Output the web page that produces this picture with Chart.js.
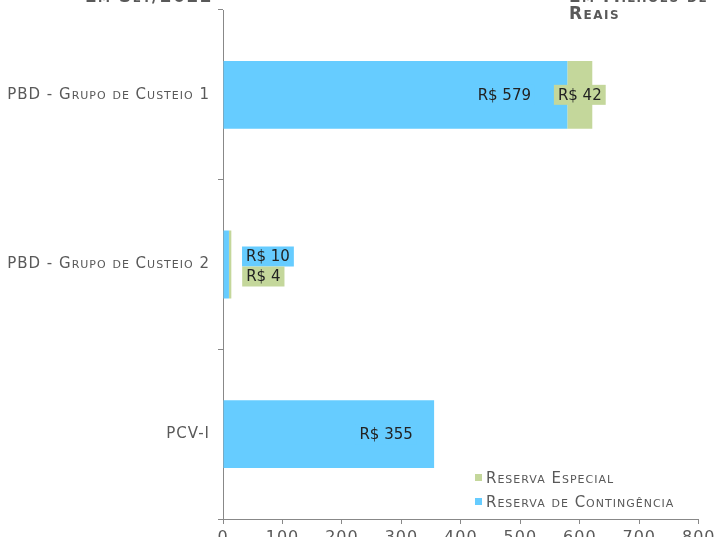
<!DOCTYPE html>
<html>
<head>
<meta charset="utf-8">
<script src="https://cdn.jsdelivr.net/npm/chart.js@4"></script>
<style>
  html, body { margin: 0; padding: 0; overflow: hidden; background: #fff; }
  #wrap { position: absolute; left: 0; top: -20px; width: 718px; height: 580px; }
</style>
</head>
<body>
<div id="wrap"><canvas id="chart"></canvas></div>
<script>
const categories = ['PBD - Grupo de Custeio 1', 'PBD - Grupo de Custeio 2', 'PCV-I']
const contingencia = [579, 10, 355]
const especial = [42, 4, 0]
const xTicks = [0, 100, 200, 300, 400, 500, 600, 700, 800]

const BLUE = '#66CCFF'
const GREEN = '#C4D79B'
const GRAY = '#595959'
const FAMILY = '"DejaVu Sans", sans-serif'

// label nudges (px) relative to the end of each segment
const shifts = [
  [[-63, 0], [39, -8], [-48, 0]],
  [['mid', 0], [32, 12], null],
]

const labelsPlugin = {
  id: 'barLabels',
  beforeDraw(chart) {
    // the source font is wide, so open the letters up a little
    chart.ctx.letterSpacing = '1px'
  },
  afterDatasetsDraw(chart) {
    const ctx = chart.ctx
    ctx.save()
    ctx.letterSpacing = '0px'
    ctx.font = '15px ' + FAMILY
    ctx.textAlign = 'center'
    ctx.textBaseline = 'middle'
    chart.data.datasets.forEach((ds, i) => {
      chart.getDatasetMeta(i).data.forEach((bar, j) => {
        const v = ds.data[j]
        const s = shifts[i][j]
        if (!v || !s) return
        const cx = s[0] === 'mid' ? (bar.x + bar.base) / 2 : bar.x + s[0]
        const cy = bar.y + s[1]
        const txt = 'R$ ' + v
        const w = ctx.measureText(txt).width + 8
        ctx.fillStyle = ds.backgroundColor
        ctx.fillRect(cx - w / 2, cy - 10, w, 20)
        ctx.fillStyle = '#222'
        ctx.fillText(txt, cx, cy + 1)
      })
    })
    ctx.restore()
  },
  afterDraw(chart) {
    const ctx = chart.ctx
    ctx.save()
    // titles (cut by the page top)
    ctx.fillStyle = GRAY
    ctx.letterSpacing = '1.5px'
    ctx.font = 'small-caps bold 17px ' + FAMILY
    ctx.textBaseline = 'alphabetic'
    ctx.textAlign = 'left'
    ctx.fillText('Em Set/2022', 85, 22)
    ctx.fillText('Em Milhões de', 569, 22)
    ctx.fillText('Reais', 569, 39)
    // legend inside plot
    const items = [[GREEN, 'Reserva Especial', 498], [BLUE, 'Reserva de Contingência', 522]]
    ctx.letterSpacing = '1px'
    ctx.font = 'small-caps 15px ' + FAMILY
    ctx.textBaseline = 'middle'
    items.forEach(([c, t, y]) => {
      ctx.fillStyle = c
      ctx.fillRect(475, y - 4, 7, 7)
      ctx.fillStyle = GRAY
      ctx.fillText(t, 486, y + 1)
    })
    ctx.restore()
  }
}

new Chart(document.getElementById('chart'), {
  type: 'bar',
  data: {
    labels: categories,
    datasets: [
      { label: 'Reserva de Contingência', data: contingencia, backgroundColor: BLUE },
      { label: 'Reserva Especial', data: especial, backgroundColor: GREEN },
    ]
  },
  options: {
    indexAxis: 'y',
    responsive: true,
    maintainAspectRatio: false,
    animation: false,
    layout: { padding: { left: 0, right: 18, top: 30, bottom: 0 } },
    datasets: { bar: { categoryPercentage: 1, barPercentage: 0.4 } },
    plugins: {
      legend: { display: false },
      tooltip: { enabled: false },
    },
    scales: {
      x: {
        stacked: true,
        min: 0,
        max: 800,
        afterBuildTicks: scale => { scale.ticks = xTicks.map(v => ({ value: v })) },
        afterFit: scale => { scale.height = 41 },
        grid: { drawOnChartArea: false, tickLength: 5, color: '#888' },
        border: { color: '#888' },
        ticks: { color: GRAY, font: { family: FAMILY, size: 16 }, padding: 4 },
      },
      y: {
        stacked: true,
        afterFit: scale => { scale.width = 223 },
        grid: { drawOnChartArea: false, tickLength: 5, color: '#888' },
        border: { color: '#888' },
        ticks: { color: GRAY, font: { family: FAMILY, size: 15, weight: 'small-caps' }, padding: 8 },
      },
    },
  },
  plugins: [labelsPlugin],
})
</script>
</body>
</html>
